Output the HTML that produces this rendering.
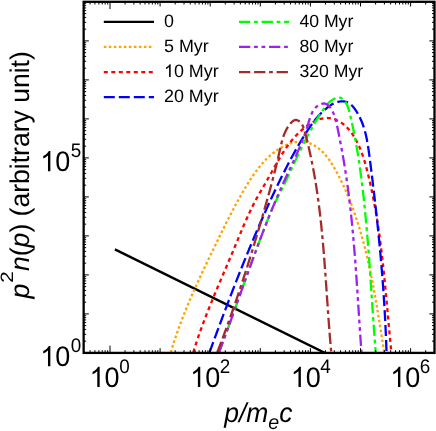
<!DOCTYPE html>
<html><head><meta charset="utf-8"><title>chart</title><style>html,body{margin:0;padding:0;background:#fff;overflow:hidden}body{width:436px;height:431px;position:relative;font-family:"Liberation Sans",sans-serif}</style></head><body>
<svg width="436" height="431" viewBox="0 0 436 431" style="position:absolute;left:0;top:0;display:block;will-change:transform;text-rendering:geometricPrecision">
<rect width="436" height="431" fill="#fff"/>
<defs><clipPath id="c"><rect x="83.65" y="1.8" width="350.85" height="351.09999999999997"/></clipPath></defs>
<g clip-path="url(#c)" fill="none" stroke-width="2.3" stroke-linejoin="round">
<path d="M114.9,249.40 L335,357.90" stroke="#000" stroke-width="2.4"/>
<path d="M170.77,352.47 L171.11,351.29 L171.46,350.11 L171.81,348.93 L172.17,347.76 L172.53,346.58 L172.90,345.41 L173.27,344.23 L173.64,343.06 L174.02,341.89 L174.40,340.72 L174.79,339.55 L175.17,338.38 L175.57,337.21 L175.96,336.04 L176.36,334.87 L176.76,333.71 L177.17,332.54 L177.58,331.38 L177.99,330.22 L178.41,329.05 L178.83,327.89 L179.25,326.73 L179.68,325.57 L180.11,324.42 L180.54,323.26 L180.97,322.10 L181.41,320.94 L181.85,319.79 L182.30,318.64 L182.74,317.48 L183.19,316.33 L183.65,315.18 L184.10,314.03 L184.56,312.88 L185.02,311.73 L185.48,310.58 L185.95,309.43 L186.42,308.28 L186.89,307.14 L187.36,305.99 L187.84,304.85 L188.32,303.70 L188.80,302.56 L189.28,301.42 L189.76,300.28 L190.25,299.14 L190.74,298.00 L191.23,296.86 L191.72,295.72 L192.22,294.58 L192.72,293.45 L193.22,292.31 L193.72,291.17 L194.22,290.04 L194.72,288.91 L195.23,287.77 L195.74,286.64 L196.25,285.51 L196.76,284.38 L197.27,283.25 L197.79,282.12 L198.30,280.99 L198.82,279.86 L199.34,278.74 L199.86,277.61 L200.38,276.48 L200.90,275.36 L201.42,274.23 L201.95,273.11 L202.47,271.99 L203.00,270.86 L203.53,269.74 L204.06,268.62 L204.59,267.50 L205.12,266.38 L205.65,265.26 L206.18,264.14 L206.71,263.02 L207.25,261.91 L207.78,260.79 L208.31,259.68 L208.85,258.56 L209.39,257.45 L209.92,256.33 L210.46,255.22 L211.00,254.10 L211.53,252.99 L212.07,251.88 L212.61,250.77 L213.15,249.66 L213.69,248.55 L214.23,247.44 L214.76,246.33 L215.30,245.22 L215.84,244.12 L216.38,243.01 L216.92,241.90 L217.46,240.80 L218.00,239.69 L218.53,238.59 L219.07,237.48 L219.61,236.38 L220.15,235.28 L220.69,234.18 L221.23,233.07 L221.77,231.97 L222.31,230.87 L222.86,229.77 L223.40,228.67 L223.94,227.58 L224.49,226.48 L225.03,225.38 L225.58,224.28 L226.13,223.19 L226.68,222.09 L227.23,221.00 L227.78,219.90 L228.34,218.81 L228.90,217.72 L229.45,216.62 L230.01,215.53 L230.58,214.44 L231.14,213.35 L231.71,212.26 L232.27,211.17 L232.84,210.09 L233.42,209.00 L233.99,207.91 L234.57,206.82 L235.15,205.74 L235.73,204.65 L236.32,203.57 L236.91,202.49 L237.50,201.40 L238.10,200.32 L238.69,199.24 L239.30,198.16 L239.90,197.08 L240.51,196.00 L241.12,194.92 L241.73,193.85 L242.35,192.77 L242.98,191.69 L243.60,190.62 L244.23,189.54 L244.87,188.47 L245.51,187.40 L246.15,186.32 L246.80,185.25 L247.45,184.18 L248.11,183.12 L248.77,182.06 L249.44,181.00 L250.11,179.94 L250.79,178.89 L251.48,177.84 L252.18,176.80 L252.88,175.76 L253.59,174.73 L254.31,173.70 L255.03,172.68 L255.77,171.67 L256.51,170.66 L257.26,169.67 L258.02,168.68 L258.79,167.70 L259.57,166.72 L260.36,165.76 L261.16,164.81 L261.97,163.87 L262.79,162.93 L263.62,162.01 L264.47,161.10 L265.32,160.21 L266.19,159.32 L267.07,158.45 L267.96,157.59 L268.87,156.74 L269.79,155.91 L270.72,155.09 L271.67,154.29 L272.63,153.50 L273.60,152.73 L274.59,151.98 L275.59,151.24 L276.61,150.51 L277.65,149.81 L278.70,149.12 L279.76,148.45 L280.84,147.80 L281.94,147.17 L283.05,146.57 L284.16,145.99 L285.29,145.44 L286.43,144.92 L287.58,144.44 L288.74,143.98 L289.90,143.56 L291.08,143.18 L292.25,142.84 L293.43,142.53 L294.61,142.28 L295.80,142.06 L296.99,141.89 L298.17,141.77 L299.36,141.70 L300.54,141.69 L301.73,141.72 L302.90,141.80 L304.07,141.93 L305.23,142.12 L306.39,142.35 L307.53,142.64 L308.66,142.97 L309.77,143.35 L310.87,143.78 L311.95,144.26 L313.02,144.79 L314.07,145.36 L315.11,145.97 L316.12,146.62 L317.13,147.31 L318.11,148.03 L319.08,148.79 L320.03,149.58 L320.96,150.40 L321.87,151.26 L322.77,152.13 L323.64,153.04 L324.50,153.97 L325.34,154.92 L326.16,155.88 L326.96,156.87 L327.74,157.87 L328.51,158.89 L329.25,159.92 L329.97,160.97 L330.68,162.02 L331.37,163.08 L332.04,164.15 L332.70,165.23 L333.35,166.32 L333.99,167.41 L334.62,168.50 L335.24,169.60 L335.85,170.70 L336.45,171.81 L337.05,172.91 L337.64,174.02 L338.23,175.12 L338.80,176.23 L339.38,177.34 L339.94,178.46 L340.50,179.57 L341.06,180.69 L341.60,181.81 L342.15,182.93 L342.68,184.05 L343.21,185.17 L343.73,186.29 L344.25,187.42 L344.76,188.55 L345.27,189.68 L345.77,190.81 L346.27,191.94 L346.76,193.07 L347.24,194.21 L347.72,195.35 L348.20,196.48 L348.67,197.62 L349.13,198.77 L349.59,199.91 L350.05,201.05 L350.50,202.20 L350.94,203.35 L351.38,204.50 L351.82,205.65 L352.25,206.80 L352.67,207.95 L353.10,209.11 L353.51,210.26 L353.93,211.42 L354.34,212.58 L354.74,213.74 L355.14,214.90 L355.54,216.07 L355.93,217.23 L356.32,218.40 L356.70,219.56 L357.09,220.73 L357.46,221.90 L357.84,223.08 L358.21,224.25 L358.57,225.42 L358.94,226.60 L359.29,227.77 L359.65,228.95 L360.00,230.13 L360.35,231.31 L360.70,232.49 L361.04,233.68 L361.38,234.86 L361.71,236.05 L362.04,237.23 L362.37,238.42 L362.70,239.61 L363.02,240.80 L363.34,241.99 L363.66,243.18 L363.97,244.38 L364.28,245.57 L364.59,246.76 L364.89,247.96 L365.20,249.16 L365.49,250.35 L365.79,251.55 L366.08,252.75 L366.37,253.95 L366.66,255.15 L366.95,256.36 L367.23,257.56 L367.51,258.76 L367.79,259.97 L368.06,261.17 L368.33,262.38 L368.60,263.59 L368.87,264.79 L369.14,266.00 L369.40,267.21 L369.66,268.42 L369.92,269.63 L370.17,270.84 L370.43,272.05 L370.68,273.27 L370.93,274.48 L371.18,275.69 L371.42,276.90 L371.67,278.12 L371.91,279.33 L372.15,280.55 L372.38,281.76 L372.62,282.98 L372.85,284.20 L373.09,285.41 L373.32,286.63 L373.55,287.85 L373.77,289.07 L374.00,290.29 L374.22,291.51 L374.45,292.72 L374.67,293.94 L374.89,295.16 L375.10,296.38 L375.32,297.60 L375.54,298.82 L375.75,300.04 L375.96,301.27 L376.17,302.49 L376.38,303.71 L376.59,304.93 L376.80,306.15 L377.01,307.37 L377.21,308.59 L377.42,309.81 L377.62,311.04 L377.82,312.26 L378.02,313.48 L378.22,314.70 L378.42,315.92 L378.62,317.14 L378.82,318.37 L379.02,319.59 L379.22,320.81 L379.41,322.03 L379.61,323.25 L379.80,324.47 L380.00,325.69 L380.19,326.91 L380.38,328.13 L380.58,329.35 L380.77,330.57 L380.96,331.79 L381.15,333.01 L381.34,334.23 L381.53,335.45 L381.73,336.67 L381.92,337.88 L382.11,339.10 L382.30,340.32 L382.49,341.54 L382.68,342.75 L382.87,343.97 L383.06,345.18 L383.25,346.40 L383.44,347.61 L383.63,348.83 L383.82,350.04 L384.01,351.25 L384.20,352.46" stroke="#ffa500" stroke-dasharray="2.6 2.4"/>
<path d="M193.24,352.52 L193.63,351.24 L194.02,349.95 L194.42,348.67 L194.82,347.39 L195.23,346.12 L195.64,344.84 L196.05,343.57 L196.47,342.30 L196.89,341.03 L197.31,339.76 L197.74,338.49 L198.17,337.23 L198.61,335.96 L199.04,334.70 L199.48,333.44 L199.93,332.18 L200.38,330.92 L200.83,329.67 L201.28,328.41 L201.74,327.16 L202.20,325.90 L202.66,324.65 L203.12,323.40 L203.59,322.15 L204.06,320.91 L204.53,319.66 L205.01,318.41 L205.49,317.17 L205.97,315.93 L206.45,314.68 L206.93,313.44 L207.42,312.20 L207.91,310.96 L208.40,309.73 L208.89,308.49 L209.39,307.25 L209.88,306.02 L210.38,304.78 L210.88,303.55 L211.38,302.31 L211.89,301.08 L212.39,299.85 L212.90,298.62 L213.41,297.38 L213.92,296.15 L214.43,294.92 L214.94,293.69 L215.46,292.46 L215.97,291.24 L216.49,290.01 L217.00,288.78 L217.52,287.55 L218.04,286.32 L218.56,285.10 L219.08,283.87 L219.60,282.64 L220.12,281.42 L220.65,280.19 L221.17,278.96 L221.69,277.74 L222.22,276.51 L222.74,275.29 L223.26,274.06 L223.79,272.83 L224.31,271.61 L224.84,270.38 L225.36,269.15 L225.89,267.93 L226.41,266.70 L226.94,265.47 L227.46,264.25 L227.99,263.02 L228.51,261.79 L229.03,260.56 L229.56,259.33 L230.08,258.10 L230.60,256.87 L231.12,255.64 L231.64,254.41 L232.16,253.18 L232.68,251.95 L233.20,250.72 L233.72,249.49 L234.23,248.25 L234.75,247.02 L235.26,245.78 L235.77,244.55 L236.29,243.31 L236.80,242.07 L237.31,240.84 L237.82,239.60 L238.33,238.36 L238.84,237.13 L239.36,235.89 L239.87,234.65 L240.38,233.42 L240.90,232.18 L241.41,230.95 L241.93,229.71 L242.45,228.48 L242.98,227.25 L243.50,226.02 L244.03,224.79 L244.56,223.57 L245.09,222.34 L245.62,221.12 L246.16,219.90 L246.70,218.68 L247.25,217.46 L247.80,216.25 L248.36,215.03 L248.91,213.82 L249.48,212.62 L250.05,211.41 L250.62,210.21 L251.20,209.01 L251.78,207.82 L252.37,206.63 L252.97,205.44 L253.57,204.26 L254.18,203.08 L254.79,201.90 L255.42,200.73 L256.04,199.56 L256.68,198.40 L257.32,197.23 L257.96,196.08 L258.61,194.92 L259.27,193.76 L259.92,192.61 L260.58,191.46 L261.24,190.31 L261.91,189.16 L262.58,188.01 L263.24,186.86 L263.91,185.71 L264.58,184.56 L265.25,183.41 L265.91,182.26 L266.58,181.10 L267.24,179.95 L267.90,178.79 L268.56,177.63 L269.22,176.46 L269.87,175.30 L270.53,174.13 L271.18,172.96 L271.83,171.79 L272.48,170.62 L273.13,169.45 L273.78,168.28 L274.44,167.11 L275.09,165.94 L275.75,164.77 L276.42,163.61 L277.08,162.45 L277.75,161.29 L278.42,160.13 L279.10,158.97 L279.79,157.82 L280.48,156.68 L281.18,155.54 L281.88,154.40 L282.59,153.27 L283.31,152.15 L284.04,151.03 L284.78,149.91 L285.52,148.81 L286.28,147.71 L287.05,146.62 L287.83,145.54 L288.62,144.47 L289.42,143.40 L290.23,142.35 L291.06,141.30 L291.90,140.27 L292.76,139.24 L293.63,138.23 L294.51,137.23 L295.42,136.24 L296.33,135.26 L297.27,134.29 L298.22,133.34 L299.18,132.40 L300.17,131.47 L301.18,130.56 L302.20,129.67 L303.24,128.78 L304.31,127.92 L305.39,127.07 L306.49,126.24 L307.61,125.43 L308.75,124.65 L309.90,123.90 L311.06,123.18 L312.24,122.50 L313.43,121.85 L314.63,121.24 L315.84,120.68 L317.06,120.16 L318.29,119.69 L319.52,119.27 L320.76,118.91 L322.01,118.60 L323.25,118.36 L324.51,118.17 L325.76,118.06 L327.01,118.01 L328.26,118.03 L329.51,118.13 L330.76,118.30 L332.00,118.55 L333.24,118.86 L334.47,119.25 L335.68,119.70 L336.88,120.22 L338.07,120.79 L339.24,121.42 L340.39,122.11 L341.52,122.85 L342.62,123.63 L343.70,124.47 L344.75,125.34 L345.76,126.26 L346.75,127.21 L347.70,128.20 L348.62,129.21 L349.51,130.26 L350.37,131.34 L351.21,132.43 L352.01,133.55 L352.79,134.69 L353.54,135.84 L354.26,137.01 L354.96,138.18 L355.64,139.37 L356.30,140.56 L356.93,141.75 L357.54,142.96 L358.13,144.17 L358.71,145.38 L359.26,146.60 L359.79,147.83 L360.31,149.06 L360.81,150.30 L361.30,151.55 L361.76,152.79 L362.22,154.05 L362.66,155.30 L363.09,156.56 L363.50,157.83 L363.90,159.09 L364.30,160.37 L364.68,161.64 L365.05,162.92 L365.42,164.20 L365.77,165.48 L366.12,166.76 L366.46,168.05 L366.80,169.33 L367.13,170.62 L367.45,171.91 L367.78,173.20 L368.10,174.49 L368.41,175.79 L368.72,177.08 L369.03,178.37 L369.34,179.67 L369.64,180.97 L369.93,182.26 L370.23,183.56 L370.52,184.86 L370.80,186.16 L371.09,187.46 L371.37,188.76 L371.64,190.06 L371.92,191.36 L372.19,192.67 L372.45,193.97 L372.72,195.27 L372.98,196.58 L373.24,197.89 L373.49,199.19 L373.74,200.50 L373.99,201.81 L374.24,203.12 L374.48,204.43 L374.72,205.74 L374.96,207.05 L375.19,208.36 L375.42,209.67 L375.65,210.98 L375.88,212.30 L376.10,213.61 L376.32,214.93 L376.54,216.24 L376.75,217.56 L376.96,218.87 L377.17,220.19 L377.38,221.51 L377.59,222.82 L377.79,224.14 L377.99,225.46 L378.19,226.78 L378.38,228.10 L378.58,229.42 L378.77,230.74 L378.96,232.06 L379.15,233.38 L379.33,234.71 L379.51,236.03 L379.69,237.35 L379.87,238.68 L380.05,240.00 L380.22,241.32 L380.40,242.65 L380.57,243.97 L380.73,245.30 L380.90,246.62 L381.07,247.95 L381.23,249.27 L381.39,250.60 L381.55,251.93 L381.71,253.26 L381.87,254.58 L382.02,255.91 L382.18,257.24 L382.33,258.57 L382.48,259.89 L382.63,261.22 L382.78,262.55 L382.92,263.88 L383.07,265.21 L383.21,266.54 L383.35,267.87 L383.50,269.20 L383.64,270.53 L383.78,271.86 L383.91,273.19 L384.05,274.52 L384.19,275.85 L384.32,277.18 L384.45,278.51 L384.59,279.84 L384.72,281.17 L384.85,282.50 L384.98,283.83 L385.11,285.16 L385.24,286.50 L385.36,287.83 L385.49,289.16 L385.62,290.49 L385.74,291.82 L385.87,293.15 L385.99,294.48 L386.12,295.81 L386.24,297.14 L386.36,298.47 L386.49,299.81 L386.61,301.14 L386.73,302.47 L386.85,303.80 L386.97,305.13 L387.09,306.46 L387.21,307.79 L387.33,309.12 L387.45,310.45 L387.57,311.78 L387.69,313.11 L387.81,314.44 L387.93,315.77 L388.05,317.10 L388.17,318.42 L388.29,319.75 L388.41,321.08 L388.53,322.41 L388.65,323.74 L388.77,325.06 L388.90,326.39 L389.02,327.72 L389.14,329.05 L389.26,330.37 L389.38,331.70 L389.51,333.02 L389.63,334.35 L389.75,335.67 L389.88,337.00 L390.00,338.32 L390.13,339.65 L390.25,340.97 L390.38,342.29 L390.51,343.62 L390.64,344.94 L390.76,346.26 L390.89,347.58 L391.02,348.91 L391.16,350.23 L391.29,351.55 L391.42,352.87" stroke="#ff0000" stroke-dasharray="4 3.5"/>
<path d="M209.48,352.48 L209.96,351.18 L210.43,349.88 L210.90,348.58 L211.38,347.29 L211.85,345.99 L212.33,344.69 L212.80,343.39 L213.28,342.09 L213.75,340.80 L214.23,339.50 L214.71,338.20 L215.18,336.90 L215.66,335.60 L216.14,334.31 L216.62,333.01 L217.10,331.71 L217.58,330.41 L218.06,329.11 L218.54,327.82 L219.02,326.52 L219.50,325.22 L219.98,323.92 L220.47,322.63 L220.95,321.33 L221.43,320.03 L221.92,318.73 L222.40,317.44 L222.89,316.14 L223.38,314.84 L223.86,313.55 L224.35,312.25 L224.84,310.95 L225.33,309.66 L225.82,308.36 L226.31,307.07 L226.80,305.77 L227.29,304.48 L227.78,303.18 L228.28,301.89 L228.77,300.59 L229.27,299.30 L229.76,298.00 L230.26,296.71 L230.75,295.41 L231.25,294.12 L231.75,292.83 L232.25,291.53 L232.75,290.24 L233.25,288.95 L233.75,287.66 L234.25,286.36 L234.76,285.07 L235.26,283.78 L235.76,282.49 L236.27,281.20 L236.78,279.91 L237.28,278.62 L237.79,277.33 L238.30,276.04 L238.81,274.75 L239.32,273.46 L239.83,272.17 L240.35,270.89 L240.86,269.60 L241.38,268.31 L241.89,267.02 L242.41,265.74 L242.93,264.45 L243.44,263.17 L243.96,261.88 L244.48,260.60 L245.01,259.31 L245.53,258.03 L246.05,256.74 L246.58,255.46 L247.10,254.18 L247.63,252.90 L248.16,251.62 L248.68,250.33 L249.21,249.05 L249.75,247.77 L250.28,246.49 L250.81,245.21 L251.34,243.94 L251.88,242.66 L252.42,241.38 L252.95,240.10 L253.49,238.83 L254.03,237.55 L254.57,236.28 L255.12,235.00 L255.66,233.73 L256.20,232.45 L256.75,231.18 L257.30,229.91 L257.85,228.63 L258.40,227.36 L258.95,226.09 L259.50,224.82 L260.05,223.55 L260.61,222.28 L261.16,221.02 L261.72,219.75 L262.28,218.48 L262.84,217.22 L263.40,215.95 L263.96,214.68 L264.53,213.42 L265.09,212.16 L265.66,210.89 L266.22,209.63 L266.79,208.37 L267.36,207.11 L267.94,205.85 L268.51,204.59 L269.08,203.33 L269.66,202.07 L270.24,200.82 L270.82,199.56 L271.40,198.30 L271.98,197.05 L272.56,195.80 L273.15,194.54 L273.73,193.29 L274.32,192.04 L274.91,190.79 L275.50,189.54 L276.09,188.29 L276.69,187.04 L277.28,185.79 L277.88,184.55 L278.48,183.30 L279.08,182.06 L279.69,180.81 L280.29,179.57 L280.90,178.33 L281.51,177.09 L282.12,175.85 L282.74,174.61 L283.36,173.38 L283.98,172.14 L284.60,170.91 L285.23,169.67 L285.86,168.44 L286.49,167.21 L287.12,165.99 L287.76,164.76 L288.40,163.53 L289.04,162.31 L289.69,161.09 L290.34,159.87 L291.00,158.65 L291.65,157.43 L292.31,156.22 L292.98,155.00 L293.65,153.79 L294.32,152.58 L294.99,151.37 L295.67,150.17 L296.36,148.96 L297.05,147.76 L297.74,146.56 L298.44,145.36 L299.14,144.16 L299.84,142.97 L300.55,141.78 L301.26,140.59 L301.98,139.40 L302.71,138.21 L303.43,137.03 L304.17,135.85 L304.91,134.67 L305.65,133.49 L306.40,132.32 L307.15,131.15 L307.91,129.98 L308.68,128.82 L309.46,127.66 L310.24,126.51 L311.04,125.37 L311.85,124.24 L312.67,123.11 L313.50,122.00 L314.35,120.89 L315.21,119.80 L316.09,118.72 L316.98,117.65 L317.89,116.60 L318.82,115.56 L319.77,114.54 L320.74,113.53 L321.72,112.54 L322.73,111.57 L323.76,110.62 L324.82,109.69 L325.90,108.78 L327.00,107.88 L328.13,107.02 L329.28,106.17 L330.46,105.35 L331.67,104.58 L332.90,103.87 L334.16,103.22 L335.44,102.65 L336.75,102.18 L338.06,101.80 L339.39,101.53 L340.72,101.36 L342.04,101.29 L343.34,101.34 L344.63,101.51 L345.88,101.79 L347.09,102.20 L348.25,102.73 L349.36,103.39 L350.42,104.17 L351.43,105.05 L352.39,106.01 L353.30,107.05 L354.18,108.15 L355.01,109.28 L355.81,110.44 L356.58,111.62 L357.32,112.81 L358.02,114.01 L358.69,115.22 L359.34,116.44 L359.95,117.68 L360.54,118.92 L361.10,120.18 L361.64,121.44 L362.15,122.72 L362.64,124.00 L363.10,125.29 L363.55,126.59 L363.97,127.90 L364.37,129.22 L364.75,130.54 L365.11,131.87 L365.46,133.21 L365.78,134.55 L366.10,135.90 L366.39,137.25 L366.68,138.61 L366.95,139.97 L367.21,141.34 L367.45,142.71 L367.69,144.09 L367.91,145.47 L368.13,146.85 L368.34,148.23 L368.55,149.62 L368.74,151.00 L368.93,152.39 L369.12,153.78 L369.31,155.17 L369.49,156.56 L369.67,157.95 L369.85,159.34 L370.03,160.73 L370.21,162.12 L370.38,163.51 L370.56,164.89 L370.74,166.28 L370.91,167.67 L371.09,169.05 L371.26,170.44 L371.44,171.82 L371.61,173.21 L371.78,174.59 L371.95,175.98 L372.13,177.36 L372.30,178.74 L372.47,180.12 L372.63,181.50 L372.80,182.89 L372.97,184.27 L373.14,185.65 L373.30,187.03 L373.47,188.41 L373.63,189.79 L373.80,191.17 L373.96,192.55 L374.12,193.92 L374.28,195.30 L374.44,196.68 L374.60,198.06 L374.76,199.43 L374.92,200.81 L375.08,202.19 L375.24,203.56 L375.39,204.94 L375.55,206.32 L375.70,207.69 L375.86,209.07 L376.01,210.44 L376.16,211.82 L376.31,213.19 L376.46,214.57 L376.61,215.94 L376.76,217.32 L376.91,218.69 L377.06,220.06 L377.20,221.44 L377.35,222.81 L377.50,224.18 L377.64,225.56 L377.78,226.93 L377.92,228.30 L378.07,229.68 L378.21,231.05 L378.34,232.42 L378.48,233.79 L378.62,235.17 L378.76,236.54 L378.89,237.91 L379.03,239.28 L379.16,240.66 L379.30,242.03 L379.43,243.40 L379.56,244.77 L379.69,246.15 L379.82,247.52 L379.95,248.89 L380.07,250.27 L380.20,251.64 L380.33,253.01 L380.45,254.38 L380.57,255.76 L380.70,257.13 L380.82,258.50 L380.94,259.87 L381.06,261.25 L381.18,262.62 L381.30,263.99 L381.41,265.37 L381.53,266.74 L381.64,268.12 L381.76,269.49 L381.87,270.86 L381.98,272.24 L382.09,273.61 L382.20,274.99 L382.31,276.36 L382.42,277.74 L382.52,279.11 L382.63,280.49 L382.73,281.87 L382.84,283.24 L382.94,284.62 L383.04,286.00 L383.14,287.37 L383.24,288.75 L383.33,290.13 L383.43,291.51 L383.53,292.88 L383.62,294.26 L383.71,295.64 L383.81,297.02 L383.90,298.40 L383.99,299.78 L384.08,301.16 L384.16,302.54 L384.25,303.92 L384.34,305.30 L384.42,306.69 L384.50,308.07 L384.59,309.45 L384.67,310.83 L384.75,312.22 L384.83,313.60 L384.90,314.99 L384.98,316.37 L385.05,317.76 L385.13,319.14 L385.20,320.53 L385.27,321.92 L385.34,323.30 L385.41,324.69 L385.48,326.08 L385.54,327.47 L385.61,328.86 L385.67,330.25 L385.74,331.64 L385.80,333.03 L385.86,334.42 L385.92,335.82 L385.97,337.21 L386.03,338.60 L386.09,340.00 L386.14,341.39 L386.19,342.79 L386.24,344.18 L386.29,345.58 L386.34,346.98 L386.39,348.38 L386.44,349.78 L386.48,351.18 L386.53,352.58" stroke="#0000ff" stroke-dasharray="11 4"/>
<path d="M218.93,352.50 L219.39,351.28 L219.85,350.06 L220.32,348.83 L220.78,347.60 L221.25,346.37 L221.71,345.14 L222.18,343.90 L222.64,342.66 L223.11,341.41 L223.57,340.17 L224.04,338.91 L224.50,337.66 L224.97,336.40 L225.43,335.15 L225.90,333.88 L226.36,332.62 L226.83,331.35 L227.29,330.08 L227.76,328.81 L228.23,327.53 L228.69,326.26 L229.16,324.98 L229.62,323.70 L230.09,322.41 L230.55,321.13 L231.02,319.84 L231.48,318.55 L231.95,317.26 L232.42,315.96 L232.88,314.67 L233.35,313.37 L233.81,312.08 L234.28,310.78 L234.75,309.47 L235.21,308.17 L235.68,306.87 L236.15,305.56 L236.61,304.26 L237.08,302.95 L237.55,301.64 L238.01,300.33 L238.48,299.02 L238.95,297.71 L239.42,296.40 L239.88,295.09 L240.35,293.78 L240.82,292.46 L241.29,291.15 L241.76,289.84 L242.23,288.52 L242.70,287.21 L243.16,285.89 L243.63,284.58 L244.10,283.26 L244.57,281.95 L245.05,280.63 L245.52,279.32 L245.99,278.00 L246.46,276.69 L246.93,275.37 L247.40,274.06 L247.87,272.75 L248.35,271.43 L248.82,270.12 L249.29,268.81 L249.77,267.50 L250.24,266.19 L250.72,264.88 L251.19,263.57 L251.67,262.27 L252.14,260.96 L252.62,259.66 L253.09,258.35 L253.57,257.05 L254.05,255.75 L254.53,254.45 L255.00,253.15 L255.48,251.86 L255.96,250.56 L256.44,249.27 L256.92,247.98 L257.40,246.69 L257.88,245.40 L258.36,244.12 L258.84,242.83 L259.33,241.55 L259.81,240.27 L260.29,239.00 L260.78,237.72 L261.26,236.45 L261.75,235.18 L262.23,233.91 L262.72,232.64 L263.21,231.37 L263.70,230.11 L264.19,228.84 L264.68,227.58 L265.17,226.32 L265.66,225.06 L266.15,223.80 L266.65,222.55 L267.15,221.29 L267.64,220.04 L268.14,218.79 L268.64,217.53 L269.14,216.28 L269.65,215.04 L270.15,213.79 L270.66,212.54 L271.18,211.29 L271.71,210.05 L272.24,208.81 L272.79,207.56 L273.35,206.32 L273.92,205.08 L274.50,203.84 L275.09,202.60 L275.69,201.36 L276.30,200.12 L276.92,198.88 L277.55,197.64 L278.19,196.40 L278.83,195.16 L279.47,193.93 L280.12,192.69 L280.76,191.45 L281.40,190.22 L282.03,188.98 L282.65,187.75 L283.26,186.51 L283.86,185.28 L284.45,184.04 L285.04,182.80 L285.62,181.57 L286.20,180.33 L286.79,179.10 L287.37,177.86 L287.94,176.63 L288.52,175.39 L289.10,174.15 L289.67,172.92 L290.25,171.68 L290.82,170.44 L291.40,169.21 L291.97,167.97 L292.55,166.74 L293.12,165.50 L293.70,164.26 L294.27,163.03 L294.85,161.80 L295.43,160.56 L296.00,159.33 L296.58,158.10 L297.16,156.86 L297.75,155.63 L298.33,154.40 L298.92,153.17 L299.51,151.94 L300.10,150.71 L300.70,149.49 L301.29,148.26 L301.89,147.04 L302.50,145.81 L303.11,144.59 L303.72,143.37 L304.33,142.15 L304.95,140.93 L305.57,139.71 L306.20,138.49 L306.83,137.28 L307.47,136.06 L308.11,134.85 L308.76,133.64 L309.41,132.43 L310.07,131.23 L310.73,130.02 L311.40,128.82 L312.07,127.62 L312.76,126.42 L313.44,125.22 L314.14,124.03 L314.84,122.83 L315.55,121.64 L316.26,120.45 L316.99,119.27 L317.72,118.08 L318.46,116.90 L319.20,115.72 L319.96,114.54 L320.72,113.37 L321.49,112.20 L322.27,111.03 L323.06,109.86 L323.86,108.70 L324.68,107.56 L325.52,106.44 L326.38,105.36 L327.27,104.30 L328.20,103.30 L329.16,102.34 L330.16,101.45 L331.21,100.62 L332.30,99.87 L333.45,99.20 L334.66,98.62 L335.93,98.13 L337.23,97.78 L338.54,97.61 L339.80,97.67 L341.00,98.00 L342.11,98.57 L343.14,99.35 L344.08,100.28 L344.93,101.32 L345.70,102.44 L346.38,103.60 L346.99,104.82 L347.53,106.07 L348.01,107.36 L348.45,108.68 L348.85,110.01 L349.21,111.37 L349.56,112.73 L349.89,114.10 L350.22,115.47 L350.55,116.84 L350.86,118.20 L351.18,119.57 L351.49,120.93 L351.79,122.29 L352.09,123.65 L352.39,125.01 L352.68,126.37 L352.97,127.73 L353.25,129.09 L353.53,130.44 L353.81,131.80 L354.08,133.15 L354.35,134.51 L354.61,135.86 L354.87,137.21 L355.13,138.57 L355.38,139.92 L355.63,141.27 L355.88,142.62 L356.12,143.97 L356.36,145.32 L356.60,146.67 L356.83,148.02 L357.06,149.37 L357.28,150.72 L357.51,152.07 L357.73,153.41 L357.94,154.76 L358.16,156.11 L358.37,157.46 L358.58,158.81 L358.79,160.16 L358.99,161.50 L359.19,162.85 L359.39,164.20 L359.58,165.55 L359.78,166.90 L359.97,168.25 L360.16,169.60 L360.35,170.95 L360.53,172.30 L360.71,173.65 L360.90,175.01 L361.07,176.36 L361.25,177.71 L361.43,179.07 L361.60,180.42 L361.77,181.77 L361.94,183.13 L362.11,184.48 L362.28,185.84 L362.44,187.20 L362.60,188.55 L362.76,189.91 L362.92,191.27 L363.08,192.63 L363.23,193.98 L363.39,195.34 L363.54,196.70 L363.69,198.06 L363.84,199.42 L363.99,200.78 L364.13,202.14 L364.28,203.50 L364.42,204.87 L364.56,206.23 L364.70,207.59 L364.84,208.95 L364.98,210.31 L365.11,211.68 L365.25,213.04 L365.38,214.40 L365.51,215.77 L365.64,217.13 L365.77,218.50 L365.90,219.86 L366.02,221.23 L366.15,222.59 L366.27,223.96 L366.40,225.32 L366.52,226.69 L366.64,228.05 L366.76,229.42 L366.88,230.79 L366.99,232.15 L367.11,233.52 L367.23,234.89 L367.34,236.26 L367.45,237.62 L367.56,238.99 L367.68,240.36 L367.79,241.73 L367.90,243.10 L368.00,244.47 L368.11,245.83 L368.22,247.20 L368.33,248.57 L368.43,249.94 L368.54,251.31 L368.64,252.68 L368.74,254.05 L368.85,255.42 L368.95,256.79 L369.05,258.16 L369.15,259.53 L369.25,260.90 L369.35,262.27 L369.45,263.64 L369.55,265.01 L369.64,266.38 L369.74,267.75 L369.84,269.12 L369.93,270.49 L370.03,271.86 L370.12,273.23 L370.22,274.60 L370.31,275.97 L370.41,277.34 L370.50,278.71 L370.60,280.08 L370.69,281.45 L370.78,282.82 L370.88,284.19 L370.97,285.56 L371.06,286.93 L371.15,288.30 L371.25,289.67 L371.34,291.04 L371.43,292.40 L371.52,293.77 L371.61,295.14 L371.71,296.51 L371.80,297.88 L371.89,299.25 L371.98,300.62 L372.07,301.99 L372.16,303.36 L372.26,304.73 L372.35,306.09 L372.44,307.46 L372.53,308.83 L372.63,310.20 L372.72,311.57 L372.81,312.93 L372.91,314.30 L373.00,315.67 L373.09,317.03 L373.19,318.40 L373.28,319.77 L373.38,321.13 L373.47,322.50 L373.57,323.86 L373.66,325.23 L373.76,326.59 L373.86,327.96 L373.95,329.32 L374.05,330.69 L374.15,332.05 L374.25,333.42 L374.35,334.78 L374.45,336.14 L374.55,337.51 L374.65,338.87 L374.75,340.23 L374.86,341.59 L374.96,342.95 L375.07,344.31 L375.17,345.68 L375.28,347.04 L375.38,348.40 L375.49,349.76 L375.60,351.12 L375.71,352.47" stroke="#00ff00" stroke-dasharray="11.3 3.75 3.75 3.75"/>
<path d="M218.93,352.49 L219.39,351.27 L219.86,350.04 L220.32,348.82 L220.79,347.59 L221.25,346.37 L221.71,345.14 L222.17,343.91 L222.64,342.68 L223.10,341.45 L223.55,340.22 L224.01,338.98 L224.47,337.75 L224.93,336.51 L225.38,335.28 L225.84,334.04 L226.30,332.81 L226.75,331.57 L227.20,330.33 L227.66,329.09 L228.11,327.85 L228.56,326.61 L229.01,325.37 L229.47,324.12 L229.92,322.88 L230.37,321.64 L230.82,320.39 L231.27,319.15 L231.72,317.90 L232.17,316.66 L232.61,315.41 L233.06,314.16 L233.51,312.92 L233.96,311.67 L234.41,310.42 L234.85,309.17 L235.30,307.92 L235.75,306.67 L236.20,305.42 L236.64,304.17 L237.09,302.92 L237.54,301.67 L237.98,300.42 L238.43,299.16 L238.88,297.91 L239.32,296.66 L239.77,295.41 L240.22,294.15 L240.66,292.90 L241.11,291.65 L241.56,290.39 L242.01,289.14 L242.45,287.89 L242.90,286.63 L243.35,285.38 L243.80,284.12 L244.24,282.87 L244.69,281.62 L245.14,280.36 L245.59,279.11 L246.04,277.85 L246.49,276.60 L246.94,275.35 L247.39,274.09 L247.84,272.84 L248.29,271.58 L248.74,270.33 L249.20,269.08 L249.65,267.82 L250.10,266.57 L250.56,265.32 L251.01,264.06 L251.47,262.81 L251.92,261.56 L252.38,260.31 L252.84,259.06 L253.29,257.80 L253.75,256.55 L254.21,255.30 L254.67,254.05 L255.13,252.80 L255.59,251.55 L256.06,250.30 L256.52,249.06 L256.98,247.81 L257.45,246.56 L257.92,245.31 L258.38,244.07 L258.85,242.82 L259.32,241.58 L259.79,240.33 L260.26,239.09 L260.73,237.84 L261.20,236.60 L261.68,235.36 L262.15,234.12 L262.63,232.87 L263.11,231.63 L263.58,230.40 L264.06,229.16 L264.54,227.92 L265.03,226.68 L265.51,225.45 L265.99,224.21 L266.48,222.98 L266.97,221.74 L267.46,220.51 L267.95,219.28 L268.44,218.05 L268.93,216.82 L269.42,215.59 L269.92,214.36 L270.42,213.13 L270.91,211.90 L271.41,210.68 L271.92,209.46 L272.42,208.23 L272.92,207.01 L273.43,205.79 L273.94,204.57 L274.45,203.35 L274.96,202.13 L275.47,200.92 L275.99,199.70 L276.50,198.49 L277.02,197.28 L277.54,196.07 L278.06,194.86 L278.59,193.65 L279.11,192.44 L279.64,191.23 L280.17,190.03 L280.70,188.83 L281.23,187.63 L281.77,186.42 L282.30,185.23 L282.84,184.03 L283.38,182.83 L283.93,181.64 L284.47,180.44 L285.02,179.25 L285.57,178.06 L286.12,176.87 L286.67,175.69 L287.23,174.50 L287.78,173.32 L288.34,172.13 L288.90,170.95 L289.45,169.76 L290.01,168.58 L290.57,167.39 L291.13,166.20 L291.69,165.02 L292.24,163.83 L292.80,162.64 L293.35,161.45 L293.91,160.25 L294.46,159.06 L295.01,157.86 L295.55,156.66 L296.10,155.45 L296.64,154.25 L297.18,153.04 L297.72,151.82 L298.25,150.61 L298.78,149.38 L299.30,148.16 L299.83,146.93 L300.34,145.69 L300.85,144.45 L301.36,143.20 L301.86,141.95 L302.36,140.70 L302.85,139.43 L303.34,138.16 L303.81,136.89 L304.29,135.60 L304.75,134.31 L305.21,133.02 L305.66,131.71 L306.11,130.40 L306.55,129.08 L306.97,127.75 L307.40,126.41 L307.81,125.07 L308.21,123.71 L308.62,122.36 L309.02,121.00 L309.44,119.66 L309.87,118.32 L310.32,117.01 L310.80,115.71 L311.31,114.45 L311.87,113.22 L312.46,112.03 L313.11,110.89 L313.81,109.80 L314.57,108.76 L315.40,107.78 L316.31,106.87 L317.29,106.04 L318.33,105.29 L319.41,104.65 L320.53,104.14 L321.66,103.77 L322.79,103.55 L323.91,103.50 L325.01,103.64 L326.06,103.98 L327.06,104.51 L328.02,105.20 L328.94,106.04 L329.80,107.00 L330.61,108.06 L331.37,109.20 L332.07,110.40 L332.72,111.63 L333.31,112.88 L333.85,114.15 L334.34,115.43 L334.78,116.72 L335.19,118.01 L335.57,119.32 L335.91,120.63 L336.24,121.95 L336.54,123.27 L336.83,124.59 L337.11,125.92 L337.38,127.24 L337.66,128.56 L337.93,129.88 L338.20,131.20 L338.46,132.52 L338.73,133.83 L338.99,135.15 L339.25,136.46 L339.51,137.77 L339.77,139.08 L340.02,140.40 L340.27,141.70 L340.52,143.01 L340.77,144.32 L341.02,145.63 L341.26,146.93 L341.50,148.24 L341.74,149.54 L341.98,150.85 L342.22,152.15 L342.45,153.46 L342.68,154.76 L342.91,156.06 L343.14,157.36 L343.36,158.67 L343.59,159.97 L343.81,161.27 L344.03,162.57 L344.24,163.87 L344.46,165.18 L344.67,166.48 L344.88,167.78 L345.09,169.08 L345.29,170.39 L345.50,171.69 L345.70,172.99 L345.90,174.30 L346.10,175.60 L346.29,176.91 L346.48,178.21 L346.67,179.52 L346.86,180.82 L347.05,182.13 L347.23,183.44 L347.42,184.75 L347.60,186.05 L347.78,187.36 L347.95,188.67 L348.13,189.98 L348.30,191.29 L348.47,192.60 L348.64,193.92 L348.81,195.23 L348.97,196.54 L349.13,197.85 L349.30,199.17 L349.45,200.48 L349.61,201.79 L349.77,203.11 L349.92,204.42 L350.08,205.74 L350.23,207.05 L350.38,208.37 L350.52,209.68 L350.67,211.00 L350.82,212.32 L350.96,213.64 L351.10,214.95 L351.24,216.27 L351.38,217.59 L351.52,218.91 L351.65,220.23 L351.79,221.55 L351.92,222.86 L352.05,224.18 L352.18,225.50 L352.31,226.82 L352.43,228.15 L352.56,229.47 L352.69,230.79 L352.81,232.11 L352.93,233.43 L353.05,234.75 L353.17,236.07 L353.29,237.40 L353.41,238.72 L353.52,240.04 L353.64,241.36 L353.75,242.69 L353.87,244.01 L353.98,245.33 L354.09,246.66 L354.20,247.98 L354.31,249.31 L354.42,250.63 L354.52,251.95 L354.63,253.28 L354.73,254.60 L354.84,255.93 L354.94,257.25 L355.04,258.58 L355.15,259.90 L355.25,261.23 L355.35,262.55 L355.45,263.88 L355.54,265.20 L355.64,266.53 L355.74,267.85 L355.84,269.18 L355.93,270.50 L356.03,271.83 L356.12,273.15 L356.22,274.48 L356.31,275.81 L356.40,277.13 L356.50,278.46 L356.59,279.78 L356.68,281.11 L356.77,282.43 L356.86,283.76 L356.95,285.08 L357.04,286.41 L357.13,287.73 L357.22,289.06 L357.31,290.38 L357.40,291.71 L357.49,293.04 L357.57,294.36 L357.66,295.69 L357.75,297.01 L357.84,298.33 L357.92,299.66 L358.01,300.98 L358.10,302.31 L358.18,303.63 L358.27,304.96 L358.36,306.28 L358.44,307.60 L358.53,308.93 L358.62,310.25 L358.70,311.57 L358.79,312.90 L358.88,314.22 L358.96,315.54 L359.05,316.87 L359.14,318.19 L359.22,319.51 L359.31,320.83 L359.40,322.15 L359.49,323.48 L359.57,324.80 L359.66,326.12 L359.75,327.44 L359.84,328.76 L359.93,330.08 L360.02,331.40 L360.11,332.72 L360.20,334.04 L360.29,335.36 L360.38,336.67 L360.47,337.99 L360.56,339.31 L360.65,340.63 L360.75,341.95 L360.84,343.26 L360.94,344.58 L361.03,345.90 L361.12,347.21 L361.22,348.53 L361.32,349.84 L361.41,351.16 L361.51,352.47" stroke="#a020f0" stroke-dasharray="11.3 3.75 3.75 3.75 3.75 3.75"/>
<path d="M217.22,352.50 L217.65,351.37 L218.09,350.25 L218.52,349.12 L218.95,347.99 L219.38,346.87 L219.81,345.74 L220.24,344.61 L220.67,343.48 L221.10,342.35 L221.52,341.21 L221.95,340.08 L222.37,338.95 L222.80,337.81 L223.22,336.67 L223.64,335.54 L224.06,334.40 L224.48,333.26 L224.90,332.12 L225.32,330.98 L225.74,329.84 L226.16,328.70 L226.57,327.56 L226.99,326.42 L227.40,325.27 L227.81,324.13 L228.23,322.98 L228.64,321.84 L229.05,320.69 L229.46,319.55 L229.87,318.40 L230.28,317.25 L230.68,316.10 L231.09,314.95 L231.49,313.80 L231.90,312.65 L232.30,311.50 L232.71,310.35 L233.11,309.19 L233.51,308.04 L233.91,306.89 L234.31,305.73 L234.71,304.58 L235.10,303.42 L235.50,302.27 L235.90,301.11 L236.29,299.95 L236.68,298.80 L237.08,297.64 L237.47,296.48 L237.86,295.32 L238.25,294.16 L238.64,293.00 L239.03,291.84 L239.42,290.68 L239.81,289.52 L240.19,288.36 L240.58,287.20 L240.96,286.04 L241.35,284.87 L241.73,283.71 L242.11,282.55 L242.49,281.38 L242.88,280.22 L243.26,279.06 L243.63,277.89 L244.01,276.73 L244.39,275.56 L244.77,274.40 L245.14,273.23 L245.52,272.06 L245.89,270.90 L246.26,269.73 L246.64,268.56 L247.01,267.40 L247.38,266.23 L247.75,265.06 L248.12,263.90 L248.49,262.73 L248.85,261.56 L249.22,260.39 L249.59,259.22 L249.95,258.06 L250.32,256.89 L250.68,255.72 L251.04,254.55 L251.40,253.38 L251.77,252.21 L252.13,251.04 L252.49,249.87 L252.84,248.71 L253.20,247.54 L253.56,246.37 L253.92,245.20 L254.27,244.03 L254.63,242.86 L254.98,241.69 L255.33,240.52 L255.69,239.35 L256.04,238.18 L256.39,237.01 L256.74,235.84 L257.09,234.68 L257.44,233.51 L257.78,232.34 L258.13,231.17 L258.48,230.00 L258.82,228.83 L259.17,227.66 L259.51,226.50 L259.85,225.33 L260.20,224.16 L260.54,222.99 L260.88,221.82 L261.22,220.66 L261.56,219.49 L261.90,218.32 L262.24,217.15 L262.57,215.99 L262.91,214.82 L263.24,213.66 L263.58,212.49 L263.91,211.32 L264.25,210.16 L264.58,208.99 L264.91,207.83 L265.24,206.66 L265.57,205.50 L265.90,204.34 L266.23,203.17 L266.56,202.01 L266.89,200.85 L267.21,199.68 L267.54,198.52 L267.86,197.36 L268.19,196.20 L268.51,195.03 L268.83,193.87 L269.16,192.71 L269.48,191.55 L269.80,190.38 L270.11,189.22 L270.43,188.05 L270.75,186.89 L271.06,185.72 L271.38,184.55 L271.69,183.39 L272.00,182.22 L272.31,181.05 L272.62,179.87 L272.93,178.70 L273.24,177.53 L273.55,176.35 L273.85,175.17 L274.15,173.99 L274.46,172.81 L274.76,171.63 L275.06,170.45 L275.35,169.26 L275.65,168.07 L275.94,166.88 L276.24,165.68 L276.53,164.49 L276.82,163.29 L277.11,162.09 L277.40,160.88 L277.68,159.68 L277.96,158.47 L278.25,157.26 L278.53,156.04 L278.80,154.82 L279.08,153.60 L279.36,152.37 L279.63,151.14 L279.90,149.91 L280.18,148.68 L280.46,147.45 L280.74,146.22 L281.03,145.00 L281.33,143.78 L281.64,142.56 L281.96,141.35 L282.29,140.15 L282.64,138.96 L283.01,137.78 L283.39,136.61 L283.79,135.46 L284.22,134.31 L284.67,133.19 L285.15,132.08 L285.65,130.99 L286.18,129.92 L286.74,128.88 L287.33,127.85 L287.96,126.85 L288.62,125.87 L289.32,124.92 L290.06,123.99 L290.83,123.10 L291.65,122.23 L292.51,121.43 L293.41,120.74 L294.35,120.24 L295.33,119.97 L296.33,119.98 L297.34,120.24 L298.32,120.70 L299.27,121.32 L300.14,122.08 L300.93,122.92 L301.64,123.85 L302.27,124.85 L302.84,125.92 L303.35,127.04 L303.80,128.21 L304.22,129.42 L304.60,130.65 L304.96,131.91 L305.29,133.18 L305.61,134.45 L305.93,135.72 L306.24,136.98 L306.55,138.24 L306.86,139.49 L307.16,140.73 L307.46,141.97 L307.75,143.21 L308.04,144.44 L308.33,145.67 L308.61,146.89 L308.89,148.11 L309.17,149.33 L309.44,150.54 L309.71,151.75 L309.98,152.96 L310.24,154.16 L310.50,155.36 L310.76,156.56 L311.01,157.75 L311.26,158.95 L311.51,160.14 L311.75,161.33 L311.99,162.52 L312.23,163.70 L312.46,164.89 L312.69,166.07 L312.92,167.26 L313.15,168.44 L313.37,169.62 L313.59,170.81 L313.81,171.99 L314.02,173.17 L314.24,174.35 L314.44,175.54 L314.65,176.72 L314.86,177.90 L315.06,179.09 L315.26,180.28 L315.46,181.47 L315.65,182.65 L315.84,183.84 L316.03,185.03 L316.22,186.22 L316.41,187.42 L316.59,188.61 L316.77,189.80 L316.95,191.00 L317.13,192.19 L317.30,193.39 L317.48,194.58 L317.65,195.78 L317.82,196.98 L317.98,198.18 L318.15,199.38 L318.31,200.58 L318.47,201.78 L318.63,202.98 L318.78,204.18 L318.94,205.39 L319.09,206.59 L319.24,207.79 L319.39,209.00 L319.54,210.21 L319.69,211.41 L319.83,212.62 L319.97,213.83 L320.11,215.03 L320.25,216.24 L320.39,217.45 L320.52,218.66 L320.66,219.87 L320.79,221.08 L320.92,222.29 L321.05,223.50 L321.18,224.72 L321.30,225.93 L321.43,227.14 L321.55,228.35 L321.67,229.57 L321.79,230.78 L321.91,232.00 L322.03,233.21 L322.15,234.43 L322.26,235.64 L322.38,236.86 L322.49,238.08 L322.60,239.29 L322.71,240.51 L322.82,241.73 L322.93,242.95 L323.04,244.17 L323.14,245.38 L323.25,246.60 L323.35,247.82 L323.46,249.04 L323.56,250.26 L323.66,251.48 L323.76,252.70 L323.86,253.92 L323.96,255.14 L324.05,256.36 L324.15,257.58 L324.25,258.80 L324.34,260.03 L324.44,261.25 L324.53,262.47 L324.62,263.69 L324.72,264.91 L324.81,266.13 L324.90,267.36 L324.99,268.58 L325.08,269.80 L325.17,271.02 L325.26,272.24 L325.35,273.47 L325.44,274.69 L325.52,275.91 L325.61,277.13 L325.70,278.36 L325.78,279.58 L325.87,280.80 L325.96,282.02 L326.04,283.24 L326.13,284.47 L326.21,285.69 L326.30,286.91 L326.38,288.13 L326.47,289.35 L326.55,290.57 L326.63,291.80 L326.72,293.02 L326.80,294.24 L326.89,295.46 L326.97,296.68 L327.06,297.90 L327.14,299.12 L327.22,300.34 L327.31,301.56 L327.39,302.78 L327.48,304.00 L327.56,305.22 L327.65,306.44 L327.73,307.66 L327.82,308.88 L327.90,310.09 L327.99,311.31 L328.07,312.53 L328.16,313.75 L328.25,314.96 L328.34,316.18 L328.42,317.40 L328.51,318.61 L328.60,319.83 L328.69,321.04 L328.78,322.26 L328.87,323.47 L328.96,324.68 L329.05,325.90 L329.14,327.11 L329.24,328.32 L329.33,329.53 L329.42,330.75 L329.52,331.96 L329.61,333.17 L329.71,334.38 L329.81,335.59 L329.90,336.79 L330.00,338.00 L330.10,339.21 L330.20,340.42 L330.30,341.62 L330.41,342.83 L330.51,344.03 L330.61,345.24 L330.72,346.44 L330.83,347.65 L330.93,348.85 L331.04,350.05 L331.15,351.25 L331.26,352.45" stroke="#a52a2a" stroke-dasharray="11.3 3.75 11.3 3.75 3.75 3.75"/>
</g>
<path d="M90.06,352.9 v-2.7 M90.06,1.8 v2.7 M94.92,352.9 v-2.7 M94.92,1.8 v2.7 M98.89,352.9 v-2.7 M98.89,1.8 v2.7 M102.24,352.9 v-2.7 M102.24,1.8 v2.7 M105.14,352.9 v-2.7 M105.14,1.8 v2.7 M107.71,352.9 v-2.7 M107.71,1.8 v2.7 M110.00,352.9 v-7.3 M110.00,1.8 v7.3 M125.08,352.9 v-2.7 M125.08,1.8 v2.7 M133.90,352.9 v-2.7 M133.90,1.8 v2.7 M140.16,352.9 v-2.7 M140.16,1.8 v2.7 M145.02,352.9 v-2.7 M145.02,1.8 v2.7 M148.99,352.9 v-2.7 M148.99,1.8 v2.7 M152.34,352.9 v-2.7 M152.34,1.8 v2.7 M155.24,352.9 v-2.7 M155.24,1.8 v2.7 M157.81,352.9 v-2.7 M157.81,1.8 v2.7 M160.10,352.9 v-4.7 M160.10,1.8 v4.7 M175.18,352.9 v-2.7 M175.18,1.8 v2.7 M184.00,352.9 v-2.7 M184.00,1.8 v2.7 M190.26,352.9 v-2.7 M190.26,1.8 v2.7 M195.12,352.9 v-2.7 M195.12,1.8 v2.7 M199.09,352.9 v-2.7 M199.09,1.8 v2.7 M202.44,352.9 v-2.7 M202.44,1.8 v2.7 M205.34,352.9 v-2.7 M205.34,1.8 v2.7 M207.91,352.9 v-2.7 M207.91,1.8 v2.7 M210.20,352.9 v-4.7 M210.20,1.8 v4.7 M225.28,352.9 v-2.7 M225.28,1.8 v2.7 M234.10,352.9 v-2.7 M234.10,1.8 v2.7 M240.36,352.9 v-2.7 M240.36,1.8 v2.7 M245.22,352.9 v-2.7 M245.22,1.8 v2.7 M249.19,352.9 v-2.7 M249.19,1.8 v2.7 M252.54,352.9 v-2.7 M252.54,1.8 v2.7 M255.44,352.9 v-2.7 M255.44,1.8 v2.7 M258.01,352.9 v-2.7 M258.01,1.8 v2.7 M260.30,352.9 v-4.7 M260.30,1.8 v4.7 M275.38,352.9 v-2.7 M275.38,1.8 v2.7 M284.20,352.9 v-2.7 M284.20,1.8 v2.7 M290.46,352.9 v-2.7 M290.46,1.8 v2.7 M295.32,352.9 v-2.7 M295.32,1.8 v2.7 M299.29,352.9 v-2.7 M299.29,1.8 v2.7 M302.64,352.9 v-2.7 M302.64,1.8 v2.7 M305.54,352.9 v-2.7 M305.54,1.8 v2.7 M308.11,352.9 v-2.7 M308.11,1.8 v2.7 M310.40,352.9 v-4.7 M310.40,1.8 v4.7 M325.48,352.9 v-2.7 M325.48,1.8 v2.7 M334.30,352.9 v-2.7 M334.30,1.8 v2.7 M340.56,352.9 v-2.7 M340.56,1.8 v2.7 M345.42,352.9 v-2.7 M345.42,1.8 v2.7 M349.39,352.9 v-2.7 M349.39,1.8 v2.7 M352.74,352.9 v-2.7 M352.74,1.8 v2.7 M355.64,352.9 v-2.7 M355.64,1.8 v2.7 M358.21,352.9 v-2.7 M358.21,1.8 v2.7 M360.50,352.9 v-4.7 M360.50,1.8 v4.7 M375.58,352.9 v-2.7 M375.58,1.8 v2.7 M384.40,352.9 v-2.7 M384.40,1.8 v2.7 M390.66,352.9 v-2.7 M390.66,1.8 v2.7 M395.52,352.9 v-2.7 M395.52,1.8 v2.7 M399.49,352.9 v-2.7 M399.49,1.8 v2.7 M402.84,352.9 v-2.7 M402.84,1.8 v2.7 M405.74,352.9 v-2.7 M405.74,1.8 v2.7 M408.31,352.9 v-2.7 M408.31,1.8 v2.7 M410.60,352.9 v-4.7 M410.60,1.8 v4.7 M425.68,352.9 v-2.7 M425.68,1.8 v2.7 M83.65,341.16 h2.5 M434.5,341.16 h-2.5 M83.65,334.29 h2.5 M434.5,334.29 h-2.5 M83.65,329.42 h2.5 M434.5,329.42 h-2.5 M83.65,325.64 h2.5 M434.5,325.64 h-2.5 M83.65,322.55 h2.5 M434.5,322.55 h-2.5 M83.65,319.94 h2.5 M434.5,319.94 h-2.5 M83.65,317.68 h2.5 M434.5,317.68 h-2.5 M83.65,315.68 h2.5 M434.5,315.68 h-2.5 M83.65,313.90 h5.2 M434.5,313.90 h-5.2 M83.65,302.16 h2.5 M434.5,302.16 h-2.5 M83.65,295.29 h2.5 M434.5,295.29 h-2.5 M83.65,290.42 h2.5 M434.5,290.42 h-2.5 M83.65,286.64 h2.5 M434.5,286.64 h-2.5 M83.65,283.55 h2.5 M434.5,283.55 h-2.5 M83.65,280.94 h2.5 M434.5,280.94 h-2.5 M83.65,278.68 h2.5 M434.5,278.68 h-2.5 M83.65,276.68 h2.5 M434.5,276.68 h-2.5 M83.65,274.90 h5.2 M434.5,274.90 h-5.2 M83.65,263.16 h2.5 M434.5,263.16 h-2.5 M83.65,256.29 h2.5 M434.5,256.29 h-2.5 M83.65,251.42 h2.5 M434.5,251.42 h-2.5 M83.65,247.64 h2.5 M434.5,247.64 h-2.5 M83.65,244.55 h2.5 M434.5,244.55 h-2.5 M83.65,241.94 h2.5 M434.5,241.94 h-2.5 M83.65,239.68 h2.5 M434.5,239.68 h-2.5 M83.65,237.68 h2.5 M434.5,237.68 h-2.5 M83.65,235.90 h5.2 M434.5,235.90 h-5.2 M83.65,224.16 h2.5 M434.5,224.16 h-2.5 M83.65,217.29 h2.5 M434.5,217.29 h-2.5 M83.65,212.42 h2.5 M434.5,212.42 h-2.5 M83.65,208.64 h2.5 M434.5,208.64 h-2.5 M83.65,205.55 h2.5 M434.5,205.55 h-2.5 M83.65,202.94 h2.5 M434.5,202.94 h-2.5 M83.65,200.68 h2.5 M434.5,200.68 h-2.5 M83.65,198.68 h2.5 M434.5,198.68 h-2.5 M83.65,196.90 h5.2 M434.5,196.90 h-5.2 M83.65,185.16 h2.5 M434.5,185.16 h-2.5 M83.65,178.29 h2.5 M434.5,178.29 h-2.5 M83.65,173.42 h2.5 M434.5,173.42 h-2.5 M83.65,169.64 h2.5 M434.5,169.64 h-2.5 M83.65,166.55 h2.5 M434.5,166.55 h-2.5 M83.65,163.94 h2.5 M434.5,163.94 h-2.5 M83.65,161.68 h2.5 M434.5,161.68 h-2.5 M83.65,159.68 h2.5 M434.5,159.68 h-2.5 M83.65,157.90 h5.2 M434.5,157.90 h-5.2 M83.65,146.16 h2.5 M434.5,146.16 h-2.5 M83.65,139.29 h2.5 M434.5,139.29 h-2.5 M83.65,134.42 h2.5 M434.5,134.42 h-2.5 M83.65,130.64 h2.5 M434.5,130.64 h-2.5 M83.65,127.55 h2.5 M434.5,127.55 h-2.5 M83.65,124.94 h2.5 M434.5,124.94 h-2.5 M83.65,122.68 h2.5 M434.5,122.68 h-2.5 M83.65,120.68 h2.5 M434.5,120.68 h-2.5 M83.65,118.90 h5.2 M434.5,118.90 h-5.2 M83.65,107.16 h2.5 M434.5,107.16 h-2.5 M83.65,100.29 h2.5 M434.5,100.29 h-2.5 M83.65,95.42 h2.5 M434.5,95.42 h-2.5 M83.65,91.64 h2.5 M434.5,91.64 h-2.5 M83.65,88.55 h2.5 M434.5,88.55 h-2.5 M83.65,85.94 h2.5 M434.5,85.94 h-2.5 M83.65,83.68 h2.5 M434.5,83.68 h-2.5 M83.65,81.68 h2.5 M434.5,81.68 h-2.5 M83.65,79.90 h5.2 M434.5,79.90 h-5.2 M83.65,68.16 h2.5 M434.5,68.16 h-2.5 M83.65,61.29 h2.5 M434.5,61.29 h-2.5 M83.65,56.42 h2.5 M434.5,56.42 h-2.5 M83.65,52.64 h2.5 M434.5,52.64 h-2.5 M83.65,49.55 h2.5 M434.5,49.55 h-2.5 M83.65,46.94 h2.5 M434.5,46.94 h-2.5 M83.65,44.68 h2.5 M434.5,44.68 h-2.5 M83.65,42.68 h2.5 M434.5,42.68 h-2.5 M83.65,40.90 h5.2 M434.5,40.90 h-5.2 M83.65,29.16 h2.5 M434.5,29.16 h-2.5 M83.65,22.29 h2.5 M434.5,22.29 h-2.5 M83.65,17.42 h2.5 M434.5,17.42 h-2.5 M83.65,13.64 h2.5 M434.5,13.64 h-2.5 M83.65,10.55 h2.5 M434.5,10.55 h-2.5 M83.65,7.94 h2.5 M434.5,7.94 h-2.5 M83.65,5.68 h2.5 M434.5,5.68 h-2.5 M83.65,3.68 h2.5 M434.5,3.68 h-2.5" stroke="#000" stroke-width="1" fill="none"/>
<rect x="83.65" y="1.8" width="350.85" height="351.09999999999997" fill="none" stroke="#000" stroke-width="2.3"/>
<g fill="none" stroke-width="2.3">
<path d="M103.8,21.9 h50.2" stroke="#000"/>
<path d="M103.8,46.9 h50.2" stroke="#ffa500" stroke-dasharray="2.6 2.4"/>
<path d="M103.8,72.1 h50.2" stroke="#ff0000" stroke-dasharray="4 3.5"/>
<path d="M103.8,97.2 h50.2" stroke="#0000ff" stroke-dasharray="11 4"/>
<path d="M239,21.9 h50.2" stroke="#00ff00" stroke-dasharray="11.3 3.75 3.75 3.75"/>
<path d="M239,46.9 h50.2" stroke="#a020f0" stroke-dasharray="11.3 3.75 3.75 3.75 3.75 3.75"/>
<path d="M239,72.1 h50.2" stroke="#a52a2a" stroke-dasharray="11.3 3.75 11.3 3.75 3.75 3.75"/>
</g>
<g font-family="Liberation Sans, sans-serif" fill="#000">
<text x="164.0" y="26.9" font-size="17.9">0</text>
<text x="164.0" y="51.9" font-size="17.9">5 Myr</text>
<path transform="translate(164.00,77.10) scale(0.00874,-0.00874)" d="M763,0H583V1147Q518,1085 412.5,1023Q307,961 223,930V1104Q374,1175 487,1276Q600,1377 647,1472H763Z" fill="#000"/>
<text x="173.96" y="77.1" font-size="17.9">0 Myr</text>
<text x="164.0" y="102.2" font-size="17.9">20 Myr</text>
<text x="299.4" y="26.6" font-size="17.65">40 Myr</text>
<text x="299.4" y="51.6" font-size="17.65">80 Myr</text>
<text x="299.4" y="76.8" font-size="17.65">320 Myr</text>
<path transform="translate(89.60,387.10) scale(0.01318,-0.01378)" d="M763,0H583V1147Q518,1085 412.5,1023Q307,961 223,930V1104Q374,1175 487,1276Q600,1377 647,1472H763Z" fill="#000"/>
<text transform="translate(104.62,387.10) scale(1,1.045)" font-size="27">0<tspan font-size="18.9" dy="-13.5" dx="-0.5">0</tspan></text>
<path transform="translate(190.20,387.10) scale(0.01318,-0.01378)" d="M763,0H583V1147Q518,1085 412.5,1023Q307,961 223,930V1104Q374,1175 487,1276Q600,1377 647,1472H763Z" fill="#000"/>
<text transform="translate(205.22,387.10) scale(1,1.045)" font-size="27">0<tspan font-size="18.9" dy="-13.5" dx="-0.5">2</tspan></text>
<path transform="translate(290.80,387.10) scale(0.01318,-0.01378)" d="M763,0H583V1147Q518,1085 412.5,1023Q307,961 223,930V1104Q374,1175 487,1276Q600,1377 647,1472H763Z" fill="#000"/>
<text transform="translate(305.82,387.10) scale(1,1.045)" font-size="27">0<tspan font-size="18.9" dy="-13.5" dx="-0.5">4</tspan></text>
<path transform="translate(390.30,387.10) scale(0.01318,-0.01378)" d="M763,0H583V1147Q518,1085 412.5,1023Q307,961 223,930V1104Q374,1175 487,1276Q600,1377 647,1472H763Z" fill="#000"/>
<text transform="translate(405.32,387.10) scale(1,1.045)" font-size="27">0<tspan font-size="18.9" dy="-13.5" dx="-0.5">6</tspan></text>
<path transform="translate(40.30,366.30) scale(0.01318,-0.01378)" d="M763,0H583V1147Q518,1085 412.5,1023Q307,961 223,930V1104Q374,1175 487,1276Q600,1377 647,1472H763Z" fill="#000"/>
<text transform="translate(55.32,366.30) scale(1,1.045)" font-size="27">0<tspan font-size="18.9" dy="-13.5" dx="0.5">0</tspan></text>
<path transform="translate(40.30,171.30) scale(0.01318,-0.01378)" d="M763,0H583V1147Q518,1085 412.5,1023Q307,961 223,930V1104Q374,1175 487,1276Q600,1377 647,1472H763Z" fill="#000"/>
<text transform="translate(55.32,171.30) scale(1,1.045)" font-size="27">0<tspan font-size="18.9" dy="-13.5" dx="0.5">5</tspan></text>
<text transform="translate(224.20,422.40) scale(0.98,1.01)" font-size="27" font-style="italic">p/m<tspan font-size="20" dy="6.5">e</tspan><tspan dy="-6.5">c</tspan></text>
<text transform="translate(28.80,298.50) rotate(-90) scale(0.993,1.0)" font-size="27" font-style="italic">p</text>
<text transform="translate(13.3,282.7) rotate(-90) scale(1.09,0.945)" font-size="18.9">2</text>
<text transform="translate(28.80,271.00) rotate(-90) scale(0.983,1.0)" font-size="27"><tspan font-style="italic">n</tspan>(<tspan font-style="italic">p</tspan>) (arbitrary unit)</text>
</g>
</svg>
</body></html>
